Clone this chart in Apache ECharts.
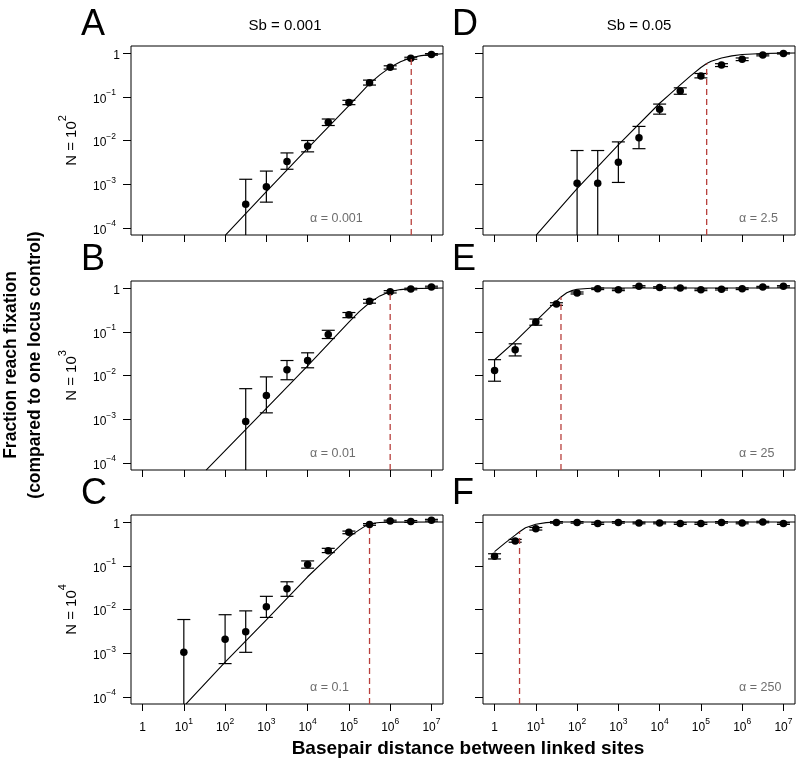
<!DOCTYPE html>
<html><head><meta charset="utf-8">
<script src="https://cdn.jsdelivr.net/npm/echarts@6/dist/echarts.min.js"></script>
<style>html,body{margin:0;padding:0;background:#fff}#c{width:796px;height:760px}</style>
</head><body><div id="c"></div>
<script>
// ---------------- data ----------------
const xTickExp = [0, 1, 2, 3, 4, 5, 6, 7];          // 1 ... 10^7
const yTickExp = [-4, -3, -2, -1, 0];               // 10^-4 ... 1
const panelLetters = ['A', 'B', 'C', 'D', 'E', 'F'];
const columnTitles = ['Sb = 0.001', 'Sb = 0.05'];
const rowExponents = [2, 3, 4];
const alphaLabels = ['α = 0.001', 'α = 0.01', 'α = 0.1', 'α = 2.5', 'α = 25', 'α = 250'];
const yTitle1 = 'Fraction reach fixation';
const yTitle2 = '(compared to one locus control)';
const xTitle = 'Basepair distance between linked sites';

// Panel A (Sb=0.001, N=10^2)
const xA = [316, 1e3, 3160, 1e4, 3.16e4, 1e5, 3.16e5, 1e6, 3.16e6, 1e7];
const meanA = [3.5e-4, 8.8e-4, 3.3e-3, 7.5e-3, 0.026, 0.074, 0.21, 0.47, 0.76, 0.93];
const lowA = [0, 3.9e-4, 2.2e-3, 5.5e-3, 0.022, 0.066, 0.185, 0.43, 0.72, 0.89];
const highA = [1.3e-3, 2.0e-3, 5.2e-3, 1.0e-2, 0.031, 0.083, 0.24, 0.51, 0.80, 0.97];
const curveAx = [102, 1e3, 1e4, 1e5, 3.16e5, 5.62e5, 1e6, 1.78e6, 3.16e6, 5.62e6, 1e7, 1.9e7];
const curveAy = [6.9e-5, 6.8e-4, 6.6e-3, 0.063, 0.20, 0.316, 0.47, 0.63, 0.78, 0.87, 0.92, 0.965];

// Panel B (Sb=0.001, N=10^3)
const xB = [316, 1e3, 3160, 1e4, 3.16e4, 1e5, 3.16e5, 1e6, 3.16e6, 1e7];
const meanB = [8.9e-4, 3.5e-3, 0.0136, 0.022, 0.086, 0.245, 0.50, 0.82, 0.95, 1.05];
const lowB = [0, 1.4e-3, 8.0e-3, 0.015, 0.070, 0.21, 0.45, 0.77, 0.91, 1.0];
const highB = [5.0e-3, 9.3e-3, 0.022, 0.033, 0.108, 0.275, 0.55, 0.87, 0.99, 1.1];
const curveBx = [34.7, 1e3, 1e4, 1e5, 1.78e5, 3.16e5, 5.62e5, 1e6, 1.78e6, 3.16e6, 1e7, 1.9e7];
const curveBy = [6.9e-5, 1.78e-3, 0.0166, 0.166, 0.288, 0.46, 0.66, 0.83, 0.92, 0.966, 0.99, 1.0];

// Panel C (Sb=0.001, N=10^4)
const xC = [10, 100, 316, 1e3, 3160, 1e4, 3.16e4, 1e5, 3.16e5, 1e6, 3.16e6, 1e7];
const meanC = [1.05e-3, 2.1e-3, 3.1e-3, 0.0116, 0.030, 0.107, 0.22, 0.58, 0.88, 1.05, 1.03, 1.10];
const lowC = [0, 5.8e-4, 1.05e-3, 6.6e-3, 0.020, 0.088, 0.20, 0.54, 0.84, 1.0, 0.98, 1.05];
const highC = [5.9e-3, 7.6e-3, 9.3e-3, 0.020, 0.043, 0.129, 0.25, 0.62, 0.92, 1.1, 1.08, 1.15];
const curveCx = [11.2, 100, 1e3, 1e4, 3.16e4, 1e5, 1.33e5, 1.78e5, 2.37e5, 3.16e5, 4.22e5, 5.62e5, 1e6, 1.9e7];
const curveCy = [6.9e-5, 6.3e-4, 5.8e-3, 0.056, 0.158, 0.447, 0.55, 0.66, 0.785, 0.89, 0.95, 0.977, 0.995, 1.0];

// Panel D (Sb=0.05, N=10^2)
const xD = [100, 316, 1e3, 3160, 1e4, 3.16e4, 1e5, 3.16e5, 1e6, 3.16e6, 1e7];
const meanD = [1.05e-3, 1.05e-3, 3.2e-3, 0.0116, 0.052, 0.135, 0.30, 0.53, 0.72, 0.90, 0.98];
const lowD = [0, 0, 1.1e-3, 6.5e-3, 0.040, 0.114, 0.27, 0.49, 0.67, 0.86, 0.95];
const highD = [5.9e-3, 5.9e-3, 9.3e-3, 0.021, 0.068, 0.16, 0.34, 0.57, 0.77, 0.94, 1.01];
const curveDx = [10.2, 100, 1e3, 1e4, 1.78e4, 3.16e4, 5.62e4, 1e5, 1.38e5, 1.78e5, 3.16e5, 5.62e5, 1e6, 3.16e6, 1e7, 1.9e7];
const curveDy = [6.9e-5, 7.9e-4, 7.9e-3, 0.071, 0.115, 0.186, 0.30, 0.467, 0.575, 0.645, 0.767, 0.86, 0.923, 0.977, 0.995, 1.0];

// Panel E (Sb=0.05, N=10^3)
const xE = [1, 3.16, 10, 31.6, 100, 316, 1e3, 3160, 1e4, 3.16e4, 1e5, 3.16e5, 1e6, 3.16e6, 1e7];
const meanE = [0.013, 0.039, 0.167, 0.43, 0.77, 0.96, 0.91, 1.09, 1.03, 1.0, 0.91, 0.94, 0.96, 1.05, 1.09];
const lowE = [7.4e-3, 0.028, 0.141, 0.40, 0.73, 0.92, 0.87, 1.04, 0.99, 0.96, 0.87, 0.90, 0.92, 1.01, 1.05];
const highE = [0.023, 0.053, 0.195, 0.46, 0.81, 1.0, 0.95, 1.13, 1.07, 1.04, 0.95, 0.98, 1.0, 1.09, 1.13];
const curveEx = [1, 3.16, 10, 31.6, 40.7, 56.2, 75, 100, 178, 316, 1.9e7];
const curveEy = [0.0229, 0.060, 0.174, 0.50, 0.624, 0.776, 0.871, 0.933, 0.977, 1.0, 1.0];

// Panel F (Sb=0.05, N=10^4)
const xF = [1, 3.16, 10, 31.6, 100, 316, 1e3, 3160, 1e4, 3.16e4, 1e5, 3.16e5, 1e6, 3.16e6, 1e7];
const meanF = [0.164, 0.37, 0.70, 0.98, 0.98, 0.92, 0.98, 0.95, 0.95, 0.92, 0.92, 0.98, 0.95, 1.0, 0.92];
const lowF = [0.143, 0.345, 0.655, 0.94, 0.94, 0.88, 0.94, 0.91, 0.91, 0.88, 0.88, 0.94, 0.91, 0.96, 0.88];
const highF = [0.188, 0.40, 0.75, 1.02, 1.02, 0.96, 1.02, 0.99, 0.99, 0.96, 0.96, 1.02, 0.99, 1.04, 0.96];
const curveFx = [1, 1.78, 3.16, 4.03, 5.62, 10, 17.8, 31.6, 1.9e7];
const curveFy = [0.21, 0.33, 0.50, 0.60, 0.74, 0.89, 0.966, 1.0, 1.0];

// cutoff (red dashed) positions and the curve height there
const cutX = [3.24e6, 1e6, 3.16e5, 1.38e5, 40.7, 4.03];
const cutTop = [0.78, 0.83, 0.89, 0.575, 0.624, 0.60];

// ---------------- layout / build ----------------
const FONT = '"Liberation Sans", Arial, Helvetica, sans-serif';
const L = v => Math.log10(v);
const xMin = -0.28, xMax = 7.28, yMin = -4.16, yMax = 0.16;
const gridPos = [
  {left: 131, top: 46}, {left: 131, top: 281}, {left: 131, top: 515},
  {left: 483, top: 46}, {left: 483, top: 281}, {left: 483, top: 515}
];
const GW = 312, GH = 189;

const panels = [
  {x: xA, mean: meanA, low: lowA, high: highA, cx: curveAx, cy: curveAy},
  {x: xB, mean: meanB, low: lowB, high: highB, cx: curveBx, cy: curveBy},
  {x: xC, mean: meanC, low: lowC, high: highC, cx: curveCx, cy: curveCy},
  {x: xD, mean: meanD, low: lowD, high: highD, cx: curveDx, cy: curveDy},
  {x: xE, mean: meanE, low: lowE, high: highE, cx: curveEx, cy: curveEy},
  {x: xF, mean: meanF, low: lowF, high: highF, cx: curveFx, cy: curveFy}
];

const tickRich = {
  b: {fontSize: 12, lineHeight: 17, verticalAlign: 'bottom', fontFamily: FONT, color: '#000'},
  s: {fontSize: 8.5, lineHeight: 17, verticalAlign: 'top', fontFamily: FONT, color: '#000'},
  g: {width: 4, lineHeight: 17}
};
function expLabel(v, spacer) {
  v = Math.round(v);
  if (v === 0) return '{b|1}';
  return '{b|10}{s|' + (v < 0 ? '\u2212' + (-v) : v) + '}' + (spacer ? '{g| }' : '');
}

const grids = [], xAxes = [], yAxes = [], series = [];
function renderErr(params, api) {
  const x = api.value(0), lo = api.value(1), hi = api.value(2);
  const off = !(lo > yMin);
  const pT = api.coord([x, hi]);
  const pB = api.coord([x, off ? yMin : lo]);
  const w = 6.5, st = {stroke: '#000', lineWidth: 1.2};
  const ch = [
    {type: 'line', shape: {x1: pT[0], y1: pT[1], x2: pB[0], y2: pB[1]}, style: st},
    {type: 'line', shape: {x1: pT[0] - w, y1: pT[1], x2: pT[0] + w, y2: pT[1]}, style: st}
  ];
  if (!off) ch.push({type: 'line', shape: {x1: pB[0] - w, y1: pB[1], x2: pB[0] + w, y2: pB[1]}, style: st});
  return {type: 'group', children: ch};
}

panels.forEach((p, i) => {
  const g = gridPos[i];
  const leftCol = i < 3, bottomRow = (i % 3) === 2;
  grids.push({left: g.left, top: g.top, width: GW, height: GH, show: true,
    borderColor: '#000', borderWidth: 1, backgroundColor: 'transparent', containLabel: false});
  xAxes.push({type: 'value', gridIndex: i, min: xMin, max: xMax, position: 'bottom',
    axisLine: {show: false, onZero: false}, splitLine: {show: false},
    axisTick: {show: true, inside: false, customValues: xTickExp, length: 7, lineStyle: {color: '#000', width: 1}},
    axisLabel: {show: bottomRow, customValues: xTickExp, margin: 13, formatter: v => expLabel(v, false), rich: tickRich}});
  yAxes.push({type: 'value', gridIndex: i, min: yMin, max: yMax, position: 'left',
    axisLine: {show: false, onZero: false}, splitLine: {show: false},
    axisTick: {show: true, inside: false, customValues: yTickExp, length: 8, lineStyle: {color: '#000', width: 1}},
    axisLabel: {show: leftCol, customValues: yTickExp, margin: 11, formatter: v => expLabel(v, true), rich: tickRich}});

  series.push({type: 'scatter', xAxisIndex: i, yAxisIndex: i, silent: true, z: 3,
    symbolSize: 7.5, itemStyle: {color: '#000', opacity: 1},
    data: p.x.map((x, k) => [L(x), L(p.mean[k])])});
  series.push({type: 'custom', xAxisIndex: i, yAxisIndex: i, silent: true, z: 3, clip: true,
    renderItem: renderErr, encode: {x: 0, y: [1, 2]},
    data: p.x.map((x, k) => [L(x), p.low[k] > 0 ? L(p.low[k]) : yMin - 1, L(p.high[k])])});
  series.push({type: 'line', xAxisIndex: i, yAxisIndex: i, silent: true, z: 4,
    showSymbol: false, smooth: false, clip: true,
    lineStyle: {color: '#000', width: 1.1},
    data: p.cx.map((x, k) => [L(x), L(p.cy[k])])});
  series.push({type: 'line', xAxisIndex: i, yAxisIndex: i, silent: true, z: 5,
    showSymbol: false, clip: true,
    lineStyle: {color: '#b8403c', width: 1.3, type: [6, 4]},
    data: [[L(cutX[i]), yMin], [L(cutX[i]), L(cutTop[i])]]});
});

const graphics = [];
panels.forEach((p, i) => {
  const g = gridPos[i];
  const leftCol = i < 3;
  graphics.push({type: 'text', x: leftCol ? 81 : 452, y: g.top - 21, silent: true,
    style: {text: panelLetters[i], fontSize: 36, fontFamily: FONT, fill: '#000', align: 'left', verticalAlign: 'middle'}});
  graphics.push({type: 'text', x: leftCol ? 310 : 739, y: g.top + 173, silent: true,
    style: {text: alphaLabels[i], fontSize: 12.5, fontFamily: FONT, fill: '#6e6e6e', align: 'left', verticalAlign: 'middle'}});
});
columnTitles.forEach((t, c) => {
  graphics.push({type: 'text', x: c === 0 ? 285 : 639, y: 26, silent: true,
    style: {text: t, fontSize: 15, fontFamily: FONT, fill: '#000', align: 'center', verticalAlign: 'middle'}});
});
rowExponents.forEach((e, r) => {
  graphics.push({type: 'text', x: 68, y: gridPos[r].top + GH / 2, rotation: Math.PI / 2, silent: true,
    style: {text: '{n|N = 10}{s|' + e + '}', align: 'center', verticalAlign: 'middle',
      rich: {n: {fontSize: 15, lineHeight: 22, verticalAlign: 'bottom', fontFamily: FONT, fill: '#000'},
             s: {fontSize: 11, lineHeight: 22, verticalAlign: 'top', fontFamily: FONT, fill: '#000'}}}});
});
graphics.push({type: 'text', x: 11, y: 365, rotation: Math.PI / 2, silent: true,
  style: {text: yTitle1, fontSize: 17.5, fontWeight: 'bold', fontFamily: FONT, fill: '#000', align: 'center', verticalAlign: 'middle'}});
graphics.push({type: 'text', x: 35, y: 365, rotation: Math.PI / 2, silent: true,
  style: {text: yTitle2, fontSize: 17.5, fontWeight: 'bold', fontFamily: FONT, fill: '#000', align: 'center', verticalAlign: 'middle'}});
graphics.push({type: 'text', x: 468, y: 749, silent: true,
  style: {text: xTitle, fontSize: 19, fontWeight: 'bold', fontFamily: FONT, fill: '#000', align: 'center', verticalAlign: 'middle'}});

const chart = echarts.init(document.getElementById('c'), null, {renderer: 'canvas', width: 796, height: 760});
chart.setOption({
  animation: false,
  backgroundColor: '#fff',
  textStyle: {fontFamily: FONT},
  grid: grids, xAxis: xAxes, yAxis: yAxes, series: series, graphic: graphics
});
</script>
</body></html>
